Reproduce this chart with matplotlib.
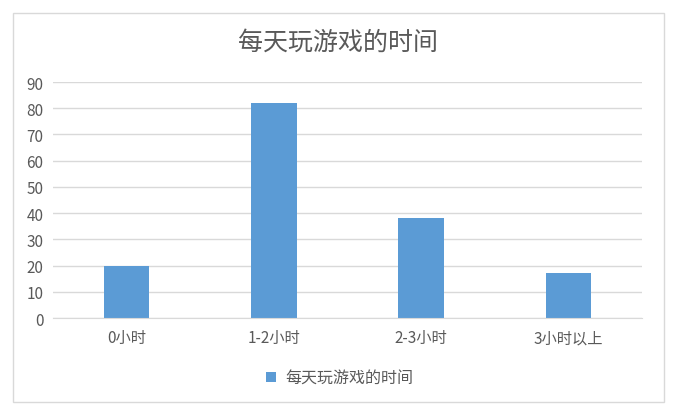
import matplotlib
matplotlib.use("Agg")
import matplotlib.pyplot as plt
from matplotlib.patches import Rectangle
import numpy as np

plt.rcParams["font.family"] = ["Noto Sans CJK SC", "DejaVu Sans"]

categories = ["0小时", "1-2小时", "2-3小时", "3小时以上"]
hours_values = [20, 82, 38, 17]
series_name = "每天玩游戏的时间"
chart_title = "每天玩游戏的时间"
y_ticks = list(range(0, 100, 10))

BAR_COLOR = "#5b9bd5"
TEXT_COLOR = "#595959"
GRID_COLOR = "#d9d9d9"

fig = plt.figure(figsize=(6.79, 4.10), dpi=100)
W, H = 679, 410
# plot area in pixel coords: x 53..642, y 83..319 (top-down)
ax = fig.add_axes([53 / W, 1 - 319 / H, (642 - 53) / W, (319 - 83) / H])

# outer chart frame
fig.patches.append(Rectangle((13 / W, 1 - 403 / H), (664 - 13) / W, (403 - 14) / H,
                             transform=fig.transFigure, fill=False,
                             edgecolor="#d9d9d9", linewidth=1.0))

x = np.arange(len(categories))
ax.bar(x, hours_values, width=0.31, color=BAR_COLOR, label=series_name, zorder=3)

ax.set_xlim(-0.5, len(categories) - 0.5)
ax.set_ylim(0, 90)
ax.set_yticks(y_ticks)
ax.set_xticks(x)
ax.set_xticklabels(categories)
ax.tick_params(axis="both", length=0, labelsize=11, colors=TEXT_COLOR)
ax.tick_params(axis="x", pad=8)
ax.tick_params(axis="y", pad=7)
ax.grid(True, axis="y", color=GRID_COLOR, linewidth=1.0, zorder=0)
for side in ["top", "right", "left"]:
    ax.spines[side].set_visible(False)
ax.spines["bottom"].set_color(GRID_COLOR)
ax.spines["bottom"].set_zorder(4)

fig.text(0.5 - 1.5 / W, 1 - 43 / H, chart_title, ha="center", va="center",
         fontsize=18, color=TEXT_COLOR)

fig.legend(loc="center", bbox_to_anchor=(0.5, 1 - 379 / H), frameon=False,
           fontsize=11.5, labelcolor=TEXT_COLOR, handlelength=0.65, handleheight=0.65,
           handletextpad=0.55)

fig.savefig("out.png", dpi=100)
